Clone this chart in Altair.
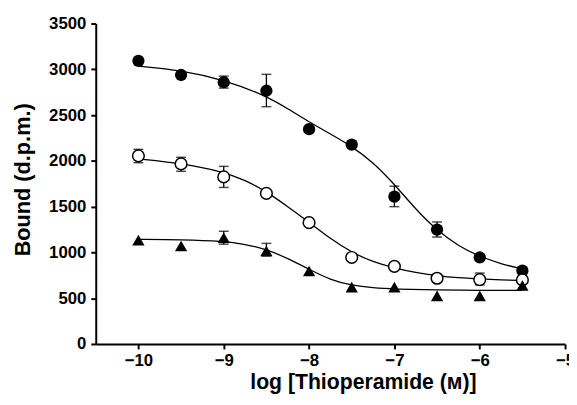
import altair as alt
import pandas as pd

# --- data ---
log_conc = [-10, -9.5, -9, -8.5, -8, -7.5, -7, -6.5, -6, -5.5]

filled_y = [3093, 2938, 2859, 2766, 2346, 2177, 1609, 1250, 945, 801]
open_y = [2055, 1967, 1825, 1645, 1325, 945, 848, 718, 703, 700]
tri_y = [1135, 1070, 1160, 1016, 797, 621, 621, 525, 525, 639]

# error bars (x, low, high)
filled_err_x = [-9, -8.5, -7, -6.5]
filled_err_lo = [2795, 2592, 1500, 1168]
filled_err_hi = [2926, 2945, 1724, 1333]
open_err_x = [-10, -9.5, -9, -6]
open_err_lo = [1980, 1886, 1710, 646]
open_err_hi = [2126, 2039, 1940, 775]
tri_err_x = [-9, -8.5]
tri_err_lo = [1090, 960]
tri_err_hi = [1231, 1099]

# fitted curves
filled_curve_x = [-10, -9.5, -9, -8.5, -8.25, -8, -7.75, -7.5, -7.25, -7, -6.75, -6.5, -6.25, -6, -5.75, -5.5]
filled_curve_y = [3035, 2990, 2885, 2710, 2570, 2425, 2295, 2160, 1985, 1745, 1470, 1240, 1070, 955, 875, 818]
open_curve_x = [-10, -9.5, -9, -8.75, -8.5, -8.25, -8, -7.75, -7.5, -7.25, -7, -6.75, -6.5, -6.25, -6, -5.75, -5.5]
open_curve_y = [2022, 1975, 1880, 1790, 1665, 1500, 1330, 1150, 1000, 895, 830, 780, 745, 722, 710, 700, 693]
tri_curve_x = [-10, -9.5, -9, -8.75, -8.5, -8.25, -8, -7.75, -7.5, -7.25, -7, -6.5, -6, -5.5]
tri_curve_y = [1142, 1140, 1123, 1090, 1035, 935, 815, 700, 640, 612, 600, 590, 586, 585]

x_ticks = [-10, -9, -8, -7, -6, -5]
y_ticks = [0, 500, 1000, 1500, 2000, 2500, 3000, 3500]

FONT = "Liberation Sans"

xs = alt.Scale(domain=[-10.5, -5], nice=False, zero=False)
ys = alt.Scale(domain=[0, 3500], nice=False)

xax = alt.Axis(values=x_ticks, format="d", title="log [Thioperamide (ᴍ)]",
               titleX=271, titleY=39, titleAlign="center", titleBaseline="middle",
               titleFontSize=21.5, titleFont=FONT, titleFontWeight="bold", titleColor="black",
               labelFont=FONT, labelFontSize=17, labelFontWeight="bold", labelColor="black",
               labelPadding=4, tickSize=5, tickWidth=2, tickColor="black",
               domainColor="black", domainWidth=2, grid=False, labelFlush=False)
yax = alt.Axis(values=y_ticks, format="d", title="Bound (d.p.m.)",
               titleX=-74, titleY=158, titleAngle=-90, titleAlign="center", titleBaseline="middle",
               titleFontSize=22, titleFont=FONT, titleFontWeight="bold", titleColor="black",
               labelFont=FONT, labelFontSize=17, labelFontWeight="bold", labelColor="black",
               labelPadding=5, tickSize=5, tickWidth=2, tickColor="black",
               domainColor="black", domainWidth=2, grid=False)

def curve_df(xv, yv):
    return pd.DataFrame({"x": xv, "y": yv})

def err_df(xv, lo, hi):
    return pd.DataFrame({"x": xv, "lo": lo, "hi": hi})

layers = []
for cx, cy in [(filled_curve_x, filled_curve_y), (open_curve_x, open_curve_y), (tri_curve_x, tri_curve_y)]:
    layers.append(
        alt.Chart(curve_df(cx, cy)).mark_line(color="black", strokeWidth=1.3, interpolate="basis")
        .encode(x=alt.X("x:Q", scale=xs, axis=xax), y=alt.Y("y:Q", scale=ys, axis=yax))
    )

for ex, lo, hi in [(filled_err_x, filled_err_lo, filled_err_hi),
                   (open_err_x, open_err_lo, open_err_hi),
                   (tri_err_x, tri_err_lo, tri_err_hi)]:
    d = err_df(ex, lo, hi)
    layers.append(alt.Chart(d).mark_rule(color="black", strokeWidth=1.3)
                  .encode(x=alt.X("x:Q", scale=xs), y=alt.Y("lo:Q", scale=ys), y2="hi:Q"))
    layers.append(alt.Chart(d).mark_tick(color="black", orient="horizontal", size=10, thickness=1.5)
                  .encode(x=alt.X("x:Q", scale=xs), y=alt.Y("lo:Q", scale=ys)))
    layers.append(alt.Chart(d).mark_tick(color="black", orient="horizontal", size=10, thickness=1.5)
                  .encode(x=alt.X("x:Q", scale=xs), y=alt.Y("hi:Q", scale=ys)))

filled_df = pd.DataFrame({"x": log_conc, "y": filled_y})
open_df = pd.DataFrame({"x": log_conc, "y": open_y})
tri_df = pd.DataFrame({"x": log_conc, "y": tri_y})

layers.append(alt.Chart(filled_df).mark_point(shape="circle", filled=True, color="black", size=155, opacity=1)
              .encode(x=alt.X("x:Q", scale=xs), y=alt.Y("y:Q", scale=ys)))
layers.append(alt.Chart(open_df).mark_point(shape="circle", filled=True, fill="white", stroke="black",
                                            strokeWidth=1.5, size=140, opacity=1)
              .encode(x=alt.X("x:Q", scale=xs), y=alt.Y("y:Q", scale=ys)))
layers.append(alt.Chart(tri_df).mark_point(shape="triangle-up", filled=True, color="black", size=155, opacity=1)
              .encode(x=alt.X("x:Q", scale=xs), y=alt.Y("y:Q", scale=ys)))

chart = alt.layer(*layers).properties(
    width=476, height=325,
    autosize=alt.AutoSizeParams(type="none"),
    padding={"left": 89, "top": 13, "right": 4, "bottom": 51},
    background="white",
).configure_view(stroke=None)

chart.save("out.html", embed_options={"renderer": "svg", "actions": False})
